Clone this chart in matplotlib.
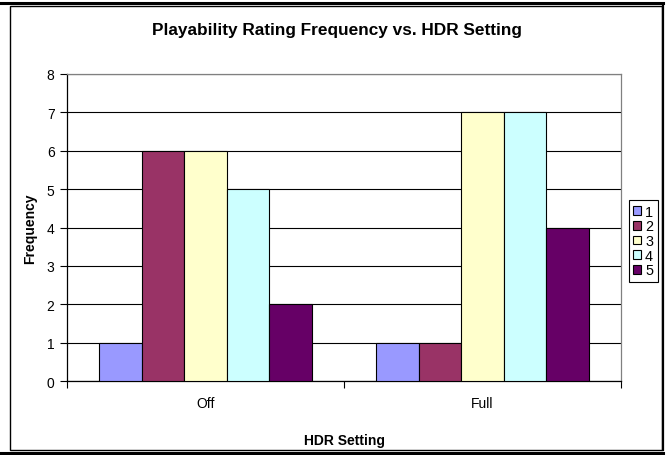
import matplotlib
matplotlib.use("Agg")
import matplotlib.pyplot as plt
import numpy as np
from matplotlib.patches import Rectangle, Patch
from matplotlib.lines import Line2D

plt.rcParams['font.family'] = ['Liberation Sans', 'DejaVu Sans']

# data
settings = ['Off', 'Full']
ratings = ['1', '2', '3', '4', '5']
freq = {
    '1': [1, 1],
    '2': [6, 1],
    '3': [6, 7],
    '4': [5, 7],
    '5': [2, 4],
}
colors = ['#9999FF', '#993366', '#FFFFCC', '#CCFFFF', '#660066']
yticks = [0, 1, 2, 3, 4, 5, 6, 7, 8]

W, H = 667, 456
fig = plt.figure(figsize=(W / 100, H / 100), dpi=100)

# chart area frame and the heavy rules above/below it
fig.patches.append(Rectangle((10 / W, 1 - 451 / H), (662 - 10) / W, (451 - 7) / H,
                             transform=fig.transFigure, fill=False,
                             edgecolor='black', linewidth=1.0))
fig.lines.append(Line2D([0, 663 / W], [1 - 3.5 / H] * 2, transform=fig.transFigure,
                        color='black', linewidth=2.2))
fig.lines.append(Line2D([0, 663 / W], [1 - 454 / H] * 2, transform=fig.transFigure,
                        color='black', linewidth=2.2))
fig.lines.append(Line2D([662.5 / W] * 2, [1 - 451 / H, 1 - 7 / H], transform=fig.transFigure,
                        color='black', linewidth=1.6))

ax = fig.add_axes([67 / W, 1 - 382 / H, (621 - 67) / W, (382 - 75) / H])

n = len(ratings)
w = 1.0 / (n + 1.5)
centers = np.arange(len(settings)) + 0.5
for i, r in enumerate(ratings):
    ax.bar(centers + (i - (n - 1) / 2) * w, freq[r], width=w, color=colors[i],
           edgecolor='black', linewidth=0.8, label=r, zorder=3)

ax.set_xlim(0, len(settings))
ax.set_ylim(0, 8)
ax.set_yticks(yticks)
ax.yaxis.grid(True, color='black', linewidth=0.8, zorder=0)
ax.set_axisbelow(True)

ax.set_xticks(np.arange(len(settings) + 1))
ax.set_xticklabels([])
ax.set_xticks(centers, minor=True)
ax.set_xticklabels(settings, minor=True)
ax.tick_params(axis='x', which='minor', length=0, pad=11, labelsize=10)
ax.tick_params(axis='x', which='major', direction='out', length=5, width=0.8)
ax.tick_params(axis='y', direction='out', length=5, width=0.8, labelsize=10, pad=4)

for s in ['top', 'right']:
    ax.spines[s].set_color('#808080')
for s in ['left', 'bottom']:
    ax.spines[s].set_color('black')
for s in ax.spines.values():
    s.set_linewidth(0.9)

ax.set_xlabel('HDR Setting', fontsize=10, fontweight='bold', labelpad=16)
ax.set_ylabel('Frequency', fontsize=10, fontweight='bold', labelpad=7)
fig.text(337 / W, 1 - 31 / H, 'Playability Rating Frequency vs. HDR Setting',
         ha='center', va='center', fontsize=12.4, fontweight='bold')

handles = [Patch(facecolor=c, edgecolor='black', linewidth=0.8) for c in colors]
leg = fig.legend(handles, ratings, loc='center left',
                 bbox_to_anchor=(628.5 / W, 1 - 242 / H), fontsize=10.4,
                 handlelength=0.55, handleheight=0.55, handletextpad=0.3,
                 labelspacing=0.05, borderpad=0.3, borderaxespad=0,
                 fancybox=False, framealpha=1, edgecolor='black')
leg.get_frame().set_linewidth(0.8)

fig.savefig('out.png', dpi=100)
